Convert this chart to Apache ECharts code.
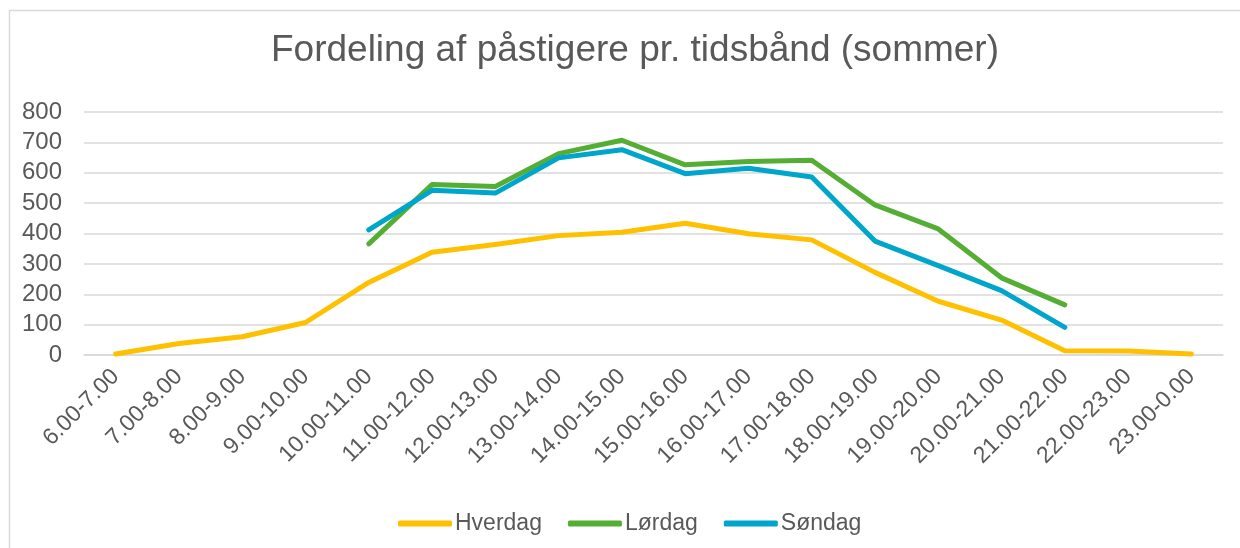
<!DOCTYPE html>
<html>
<head>
<meta charset="utf-8">
<script src="https://cdn.jsdelivr.net/npm/echarts@6/dist/echarts.min.js"></script>
<style>
  html, body { margin: 0; padding: 0; background: #fff; }
  #chart { width: 1240px; height: 548px; }
</style>
</head>
<body>
<div id="chart"></div>
<script>
// tidsbånd
const categories = [
  "6.00-7.00", "7.00-8.00", "8.00-9.00", "9.00-10.00", "10.00-11.00", "11.00-12.00",
  "12.00-13.00", "13.00-14.00", "14.00-15.00", "15.00-16.00", "16.00-17.00", "17.00-18.00",
  "18.00-19.00", "19.00-20.00", "20.00-21.00", "21.00-22.00", "22.00-23.00", "23.00-0.00"
];
const hverdag = [3, 38, 60, 107, 239, 338, 364, 393, 404, 434, 399, 379, 272, 177, 115, 14, 13, 3];
const loerdag = [null, null, null, null, 366, 561, 555, 663, 707, 626, 637, 641, 494, 415, 254, 165, null, null];
const soendag = [null, null, null, null, 412, 542, 533, 649, 676, 597, 615, 586, 375, 294, 212, 91, null, null];
const yTicks = { min: 0, max: 800, interval: 100 };

const textColor = "#595959";
const font = "Liberation Sans, Arial, sans-serif";

const chart = echarts.init(document.getElementById("chart"));

function lineSeries(name, data, color) {
  return {
    name: name,
    type: "line",
    data: data,
    symbol: "none",
    showSymbol: false,
    connectNulls: false,
    lineStyle: { color: color, width: 5, cap: "round", join: "round" },
    itemStyle: { color: color }
  };
}

chart.setOption({
  backgroundColor: "#fff",
  animation: false,
  title: {
    text: "Fordeling af påstigere pr. tidsbånd (sommer)",
    left: 630,
    top: 27,
    textAlign: "center",
    textStyle: { color: textColor, fontFamily: font, fontSize: 37, fontWeight: "normal" }
  },
  graphic: [{
    type: "rect",
    shape: { x: 9.5, y: 10.5, width: 1260, height: 560 },
    style: { fill: "none", stroke: "#d9d9d9", lineWidth: 1.5 },
    silent: true
  }],
  legend: {
    left: 393,
    top: 507,
    itemWidth: 54,
    itemHeight: 6,
    itemGap: 26,
    icon: "roundRect",
    textStyle: { color: textColor, fontFamily: font, fontSize: 23, padding: [0, 0, 0, -2] },
    data: ["Hverdag", "Lørdag", "Søndag"]
  },
  grid: { left: 84, right: 17, top: 112, bottom: 193 },
  xAxis: {
    type: "category",
    data: categories,
    boundaryGap: true,
    axisLine: { show: true, lineStyle: { color: "#d9d9d9", width: 1.5 } },
    axisTick: { show: false },
    axisLabel: {
      interval: 0,
      rotate: 45,
      margin: 18,
      color: textColor,
      fontFamily: font,
      fontSize: 23
    }
  },
  yAxis: {
    type: "value",
    min: yTicks.min,
    max: yTicks.max,
    interval: yTicks.interval,
    axisLine: { show: false },
    axisTick: { show: false },
    axisLabel: { margin: 22, color: textColor, fontFamily: font, fontSize: 24 },
    splitLine: { lineStyle: { color: "#d9d9d9", width: 1.5 } }
  },
  series: [
    lineSeries("Hverdag", hverdag, "#FFC000"),
    lineSeries("Lørdag", loerdag, "#54AE34"),
    lineSeries("Søndag", soendag, "#00A5CC")
  ]
});
</script>
</body>
</html>
